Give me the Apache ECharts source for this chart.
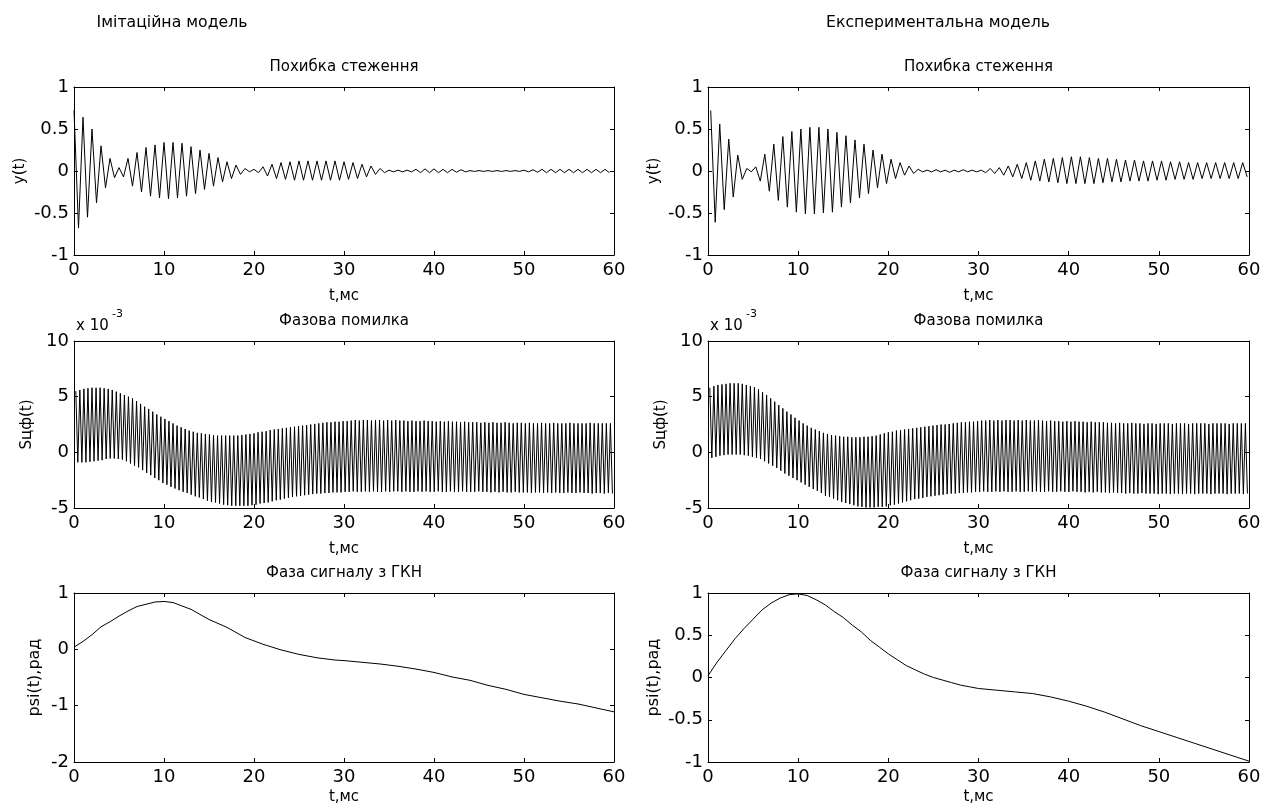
<!DOCTYPE html>
<html><head><meta charset="utf-8">
<script src="https://cdn.jsdelivr.net/npm/echarts@6/dist/echarts.min.js"></script>
<style>html,body{margin:0;padding:0;background:#fff}#c{width:1264px;height:812px}</style>
</head><body><div id="c"></div>
<script>
// ---------- DATA ----------
const X_TICKS = [0, 10, 20, 30, 40, 50, 60];

// Tracking error y(t): alternating extrema (max, min, ...) every half period
const Y_HALF_PERIOD = 0.5;       // ms between successive extrema
const Y_SIM_T0 = 0.0;
const Y_SIM = [0.72,-0.68,0.64,-0.55,0.5,-0.38,0.3,-0.2,0.15,-0.08,
 0.04,-0.07,0.15,-0.18,0.22,-0.25,0.28,-0.3,0.31,-0.32,
 0.34,-0.33,0.34,-0.32,0.33,-0.3,0.29,-0.27,0.25,-0.22,
 0.21,-0.18,0.16,-0.13,0.11,-0.09,0.07,-0.04,0.03,-0.01,
 0.02,-0.02,0.05,-0.06,0.08,-0.09,0.1,-0.1,0.11,-0.11,
 0.12,-0.11,0.12,-0.11,0.12,-0.11,0.12,-0.11,0.12,-0.11,
 0.11,-0.1,0.1,-0.09,0.08,-0.07,0.06,-0.04,0.03,-0.02,
 0.01,-0.01,0.01,-0.01,0.01,-0.01,0.02,-0.02,0.025,-0.02,
 0.025,-0.02,0.02,-0.02,0.02,-0.015,0.015,-0.01,0.005,-0.005,
 0.005,-0.005,0.005,-0.005,0.005,-0.005,0.005,-0.005,0.005,-0.005,
 0.01,-0.01,0.015,-0.015,0.02,-0.02,0.02,-0.02,0.02,-0.02,
 0.02,-0.02,0.02,-0.02,0.02,-0.02,0.02,-0.02,0.02,-0.02];
const Y_EXP_T0 = 0.3;
const Y_EXP = [0.72,-0.61,0.56,-0.46,0.38,-0.31,0.19,-0.1,0.03,-0.01,
 0.05,-0.12,0.2,-0.24,0.32,-0.35,0.41,-0.43,0.47,-0.49,
 0.5,-0.51,0.52,-0.51,0.52,-0.5,0.5,-0.49,0.46,-0.43,
 0.42,-0.38,0.37,-0.32,0.32,-0.27,0.25,-0.2,0.2,-0.15,
 0.14,-0.09,0.1,-0.05,0.06,-0.03,0.02,-0.01,0.01,-0.01,
 0.015,-0.01,0.01,-0.015,0.01,-0.01,0.015,-0.01,0.01,-0.01,
 0.01,-0.02,0.03,-0.03,0.04,-0.05,0.06,-0.07,0.08,-0.09,
 0.1,-0.11,0.12,-0.12,0.14,-0.13,0.15,-0.14,0.16,-0.15,
 0.17,-0.15,0.17,-0.15,0.16,-0.15,0.15,-0.14,0.15,-0.13,
 0.14,-0.13,0.13,-0.12,0.13,-0.12,0.12,-0.12,0.12,-0.11,
 0.12,-0.11,0.11,-0.1,0.11,-0.1,0.1,-0.1,0.1,-0.09,
 0.1,-0.09,0.1,-0.09,0.1,-0.09,0.1,-0.09,0.1,-0.07];

// Phase error S(t) (x 10^-3): per-cycle peaks and troughs
const PH_T0 = 0.2;
const PH_PERIOD = 0.45;
const PH_SIM_UP = [5.5,5.6,5.7,5.75,5.8,5.8,5.8,5.75,5.7,5.6,
 5.45,5.3,5.15,5.0,4.85,4.6,4.35,4.1,3.9,3.65,
 3.4,3.2,3.0,2.8,2.6,2.4,2.25,2.1,1.95,1.85,
 1.75,1.7,1.65,1.6,1.55,1.5,1.5,1.5,1.5,1.5,
 1.5,1.55,1.6,1.65,1.7,1.8,1.85,1.9,2.0,2.05,
 2.1,2.15,2.2,2.25,2.3,2.35,2.4,2.45,2.5,2.55,
 2.6,2.65,2.7,2.7,2.75,2.75,2.8,2.8,
 2.85,2.9,2.85,2.9,2.9,2.85,2.9,2.9,2.85,2.9,2.85,2.9,2.85,
 2.85,2.8,2.85,2.8,2.8,2.85,2.8,2.8,2.75,2.8,2.75,2.8,2.75,2.75,2.7,2.75,2.7,
 2.7,2.7,2.65,2.7,2.65,2.7,2.65,2.65,2.7,2.65,2.6,2.65,2.65,2.6,2.65,2.6,2.6,2.65,2.6,2.6,
 2.65,2.6,2.6,2.6,2.65,2.6,2.6,2.6,2.6,2.65,2.6,2.6,2.6,2.6,2.6];
const PH_SIM_LO = [-0.9,-0.9,-0.9,-0.85,-0.8,-0.75,-0.7,-0.6,-0.55,-0.55,
 -0.6,-0.65,-0.8,-1.0,-1.2,-1.35,-1.6,-1.85,-2.05,-2.3,
 -2.5,-2.75,-2.9,-3.1,-3.25,-3.4,-3.55,-3.65,-3.8,-3.95,
 -4.05,-4.2,-4.35,-4.45,-4.5,-4.6,-4.7,-4.75,-4.8,-4.8,
 -4.8,-4.8,-4.8,-4.75,-4.7,-4.6,-4.55,-4.5,-4.4,-4.3,
 -4.25,-4.15,-4.1,-4.0,-3.95,-3.9,-3.85,-3.8,-3.75,-3.7,
 -3.7,-3.65,-3.65,-3.6,-3.6,
 -3.6,-3.55,-3.55,-3.5,-3.55,-3.55,-3.5,-3.55,-3.5,-3.55,-3.55,-3.5,-3.55,-3.5,-3.5,-3.55,-3.5,-3.55,
 -3.55,-3.5,-3.55,-3.5,-3.55,-3.55,-3.5,-3.55,-3.55,-3.5,-3.55,-3.55,-3.5,-3.55,-3.55,-3.55,-3.5,-3.55,
 -3.55,-3.6,-3.55,-3.6,-3.55,-3.6,-3.6,-3.55,-3.6,-3.6,-3.6,-3.65,-3.6,-3.6,-3.65,-3.6,
 -3.65,-3.6,-3.65,-3.65,-3.6,-3.65,-3.65,-3.6,-3.65,-3.65,-3.7,-3.65,-3.65,-3.7,-3.65,-3.7];
const PH_EXP_UP = [5.8,5.95,6.05,6.1,6.15,6.2,6.2,6.2,6.15,6.05,
 5.95,5.85,5.65,5.4,5.15,4.85,4.55,4.25,3.95,3.65,
 3.4,3.1,2.85,2.6,2.4,2.2,2.05,1.9,1.75,1.65,
 1.55,1.5,1.45,1.4,1.4,1.35,1.35,1.35,1.4,1.4,
 1.45,1.5,1.6,1.7,1.8,1.85,1.95,2.0,2.05,2.1,
 2.15,2.2,2.25,2.3,2.35,2.4,2.45,2.5,2.5,2.55,
 2.6,2.65,2.7,2.7,2.75,2.75,2.8,
 2.85,2.85,2.9,2.85,2.9,2.85,2.9,2.9,2.85,2.9,2.85,2.9,2.85,2.85,2.9,2.85,
 2.8,2.85,2.8,2.8,2.75,2.8,2.75,2.8,2.75,2.75,2.7,2.75,2.7,2.7,2.7,2.65,
 2.65,2.6,2.65,2.6,2.6,2.65,2.6,2.6,2.55,2.6,2.6,2.55,2.6,2.6,2.6,2.55,2.6,
 2.6,2.6,2.55,2.6,2.6,2.6,2.6,2.55,2.6,2.6,2.6,2.6,2.55,2.6,2.6,2.6,2.6];
const PH_EXP_LO = [-0.5,-0.4,-0.3,-0.25,-0.2,-0.2,-0.2,-0.2,-0.25,-0.3,
 -0.4,-0.5,-0.6,-0.8,-1.0,-1.2,-1.4,-1.65,-1.9,-2.1,
 -2.3,-2.5,-2.7,-2.9,-3.1,-3.3,-3.45,-3.65,-3.9,-4.0,
 -4.15,-4.3,-4.45,-4.55,-4.65,-4.75,-4.85,-4.9,-4.95,-4.95,
 -4.95,-4.9,-4.9,-4.85,-4.75,-4.7,-4.6,-4.5,-4.4,-4.3,
 -4.2,-4.15,-4.1,-4.0,-3.95,-3.9,-3.85,-3.8,-3.75,-3.7,
 -3.7,-3.65,-3.65,-3.6,-3.6,
 -3.55,-3.55,-3.5,-3.55,-3.55,-3.5,-3.55,-3.5,-3.55,-3.55,-3.5,-3.55,-3.55,-3.5,-3.55,-3.5,-3.55,
 -3.55,-3.5,-3.55,-3.55,-3.5,-3.55,-3.55,-3.5,-3.55,-3.55,-3.6,-3.55,-3.6,-3.55,-3.6,-3.6,-3.65,
 -3.6,-3.65,-3.65,-3.7,-3.65,-3.7,-3.7,-3.65,-3.7,-3.7,-3.7,-3.75,-3.7,-3.7,-3.75,-3.7,-3.7,
 -3.75,-3.7,-3.7,-3.75,-3.7,-3.7,-3.7,-3.75,-3.7,-3.7,-3.7,-3.75,-3.7,-3.7,-3.7,-3.75,-3.7];

// VCO phase psi(t), rad
const PSI_T = [0,1,2,3,4,5,6,7,8,9,10,11,12,13,14,15,16,17,18,19,20,21,22,23,24,25,26,27,28,29,30,
 32,34,36,38,40,42,44,46,48,50,52,54,56,58,60];
const PSI_SIM = [0.04,0.14,0.26,0.4,0.49,0.59,0.68,0.76,0.8,0.84,0.85,0.83,0.77,0.71,0.62,0.53,0.46,0.39,0.3,0.21,
 0.15,0.09,0.04,-0.01,-0.05,-0.09,-0.12,-0.15,-0.17,-0.19,-0.2,
 -0.23,-0.26,-0.3,-0.35,-0.41,-0.49,-0.55,-0.64,-0.71,-0.8,-0.86,-0.92,-0.97,-1.04,-1.11];
const PSI_EXP = [0.02,0.18,0.32,0.46,0.58,0.69,0.8,0.88,0.94,0.98,0.99,0.97,0.92,0.86,0.78,0.71,0.62,0.54,0.44,0.36,
 0.28,0.21,0.14,0.09,0.04,0.0,-0.03,-0.06,-0.09,-0.11,-0.13,
 -0.15,-0.17,-0.19,-0.23,-0.28,-0.34,-0.41,-0.49,-0.57,-0.64,-0.71,-0.78,-0.85,-0.92,-0.99];

// ---------- helpers ----------
function extremaSeries(vals, t0, half) { return vals.map((v, i) => [t0 + i * half, v]); }
function cycleSeries(up, lo, t0, period) {
  const out = [];
  for (let k = 0; k < Math.max(up.length, lo.length); k++) {
    if (k < up.length) out.push([t0 + k * period, up[k]]);
    if (k < lo.length) out.push([t0 + period / 2 + k * period, lo[k]]);
  }
  return out;
}
function pairs(ts, vs) { return ts.map((t, i) => [t, vs[i]]); }

const FONT = 'DejaVu Sans';
const COLS = [{left: 74, width: 540}, {left: 708, width: 541}];
const ROWS = [{top: 87, height: 168}, {top: 341, height: 167}, {top: 593, height: 169}];
const XNAME_GAP = [41, 41, 35];

const panels = [
  {r:0,c:0,min:-1,max:1,int:0.5,data:extremaSeries(Y_SIM,Y_SIM_T0,Y_HALF_PERIOD)},
  {r:0,c:1,min:-1,max:1,int:0.5,data:extremaSeries(Y_EXP,Y_EXP_T0,Y_HALF_PERIOD)},
  {r:1,c:0,min:-5,max:10,int:5,data:cycleSeries(PH_SIM_UP,PH_SIM_LO,PH_T0,PH_PERIOD)},
  {r:1,c:1,min:-5,max:10,int:5,data:cycleSeries(PH_EXP_UP,PH_EXP_LO,PH_T0,PH_PERIOD)},
  {r:2,c:0,min:-2,max:1,int:1,data:pairs(PSI_T,PSI_SIM)},
  {r:2,c:1,min:-1,max:1,int:0.5,data:pairs(PSI_T,PSI_EXP)}
];

const grid = [], xAxis = [], yAxis = [], series = [];
const lineAx = {show: true, onZero: false, lineStyle: {color: '#000', width: 1}};
const tickAx = {show: true, inside: true, length: 4, lineStyle: {color: '#000', width: 1}};
const lblAx = {color: '#000', fontFamily: FONT, fontSize: 18, showMinLabel: true, showMaxLabel: true};
panels.forEach((p, i) => {
  grid.push({left: COLS[p.c].left, width: COLS[p.c].width, top: ROWS[p.r].top, height: ROWS[p.r].height});
  const xb = {type: 'value', gridIndex: i, min: X_TICKS[0], max: X_TICKS[X_TICKS.length-1], interval: 10,
    axisLine: lineAx, axisTick: tickAx, splitLine: {show: false}};
  xAxis.push(Object.assign({}, xb, {position: 'bottom', axisLabel: Object.assign({margin: 6}, lblAx)}));
  xAxis.push(Object.assign({}, xb, {position: 'top', axisLabel: {show: false}}));
  const yb = {type: 'value', gridIndex: i, min: p.min, max: p.max, interval: p.int,
    axisLine: lineAx, axisTick: tickAx, splitLine: {show: false}};
  yAxis.push(Object.assign({}, yb, {position: 'left', axisLabel: Object.assign({margin: 5}, lblAx)}));
  yAxis.push(Object.assign({}, yb, {position: 'right', axisLabel: {show: false}}));
  series.push({type: 'line', xAxisIndex: 2*i, yAxisIndex: 2*i, data: p.data, showSymbol: false,
    symbol: 'none', clip: true, lineStyle: {color: '#000', width: 1}, silent: true});
});

// ---------- texts ----------
const g = [];
function txt(text, x, y, size, opts) {
  g.push(Object.assign({type: 'text', x: x, y: y, silent: true,
    style: {text: text, fill: '#000', font: size + 'px "' + FONT + '"', align: 'center', verticalAlign: 'middle'}}, opts || {}));
}
const subTitles = ['Похибка стеження', 'Фазова помилка', 'Фаза сигналу з ГКН'];
const yNames = [['y(t)', 'y(t)'], ['Sцф(t)', 'Sцф(t)'], ['psi(t),рад', 'psi(t),рад']];
const yNameX = [[20, 654], [27, 661], [35, 654]];
txt('Імітаційна модель', 172, 23, 15.7);
txt('Експериментальна модель', 938, 23, 15.7);
for (let r = 0; r < 3; r++) {
  for (let c = 0; c < 2; c++) {
    const cx = COLS[c].left + COLS[c].width / 2;
    txt(subTitles[r], cx, ROWS[r].top - 20, 15);
    txt('t,мс', cx, ROWS[r].top + ROWS[r].height + XNAME_GAP[r], 15);
    txt(yNames[r][c], yNameX[r][c], ROWS[r].top + ROWS[r].height / 2, r === 2 ? 16 : 15, {rotation: Math.PI / 2});
  }
}
for (let c = 0; c < 2; c++) {
  g.push({type: 'text', x: COLS[c].left + 2, y: 326, silent: true,
    style: {text: 'x 10', fill: '#000', font: '15px "' + FONT + '"', align: 'left', verticalAlign: 'middle'}});
  g.push({type: 'text', x: COLS[c].left + 38, y: 314, silent: true,
    style: {text: '-3', fill: '#000', font: '11px "' + FONT + '"', align: 'left', verticalAlign: 'middle'}});
}

const chart = echarts.init(document.getElementById('c'), null, {renderer: 'canvas'});
chart.setOption({animation: false, backgroundColor: '#fff', grid, xAxis, yAxis, series, graphic: g});
</script></body></html>
